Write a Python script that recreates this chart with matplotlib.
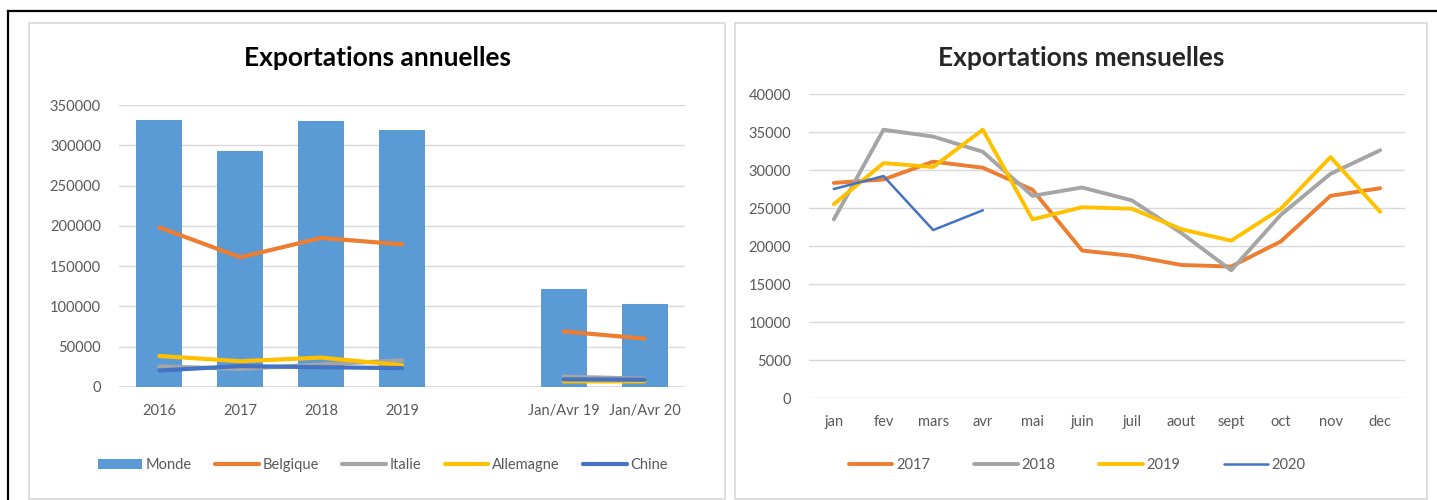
import matplotlib
matplotlib.use("Agg")
import matplotlib.pyplot as plt
from matplotlib.patches import Rectangle
from matplotlib.lines import Line2D
import numpy as np

plt.rcParams['font.family'] = ['Lato', 'DejaVu Sans']

# ---------------- data ----------------
annual_categories = ["2016", "2017", "2018", "2019", "", "Jan/Avr 19", "Jan/Avr 20"]
monde = [332000, 293000, 330000, 319000, np.nan, 122000, 103000]
belgique = [198000, 161000, 185000, 177000, np.nan, 69000, 60000]
italie = [25500, 22500, 28000, 33000, np.nan, 12800, 10300]
allemagne = [38500, 32000, 36500, 27000, np.nan, 7000, 7000]
chine = [20500, 26000, 24500, 23500, np.nan, 9500, 9000]

months = ["jan", "fev", "mars", "avr", "mai", "juin", "juil", "aout", "sept", "oct", "nov", "dec"]
y2017 = [28300, 28750, 31100, 30300, 27400, 19400, 18700, 17500, 17300, 20600, 26600, 27600]
y2018 = [23500, 35300, 34400, 32400, 26600, 27700, 26000, 21700, 16800, 24100, 29500, 32600]
y2019 = [25500, 30900, 30400, 35300, 23500, 25100, 24900, 22200, 20700, 24900, 31700, 24500]
y2020 = [27500, 29200, 22100, 24700]

# ---------------- style ----------------
C_BLUE = "#5B9BD5"
C_ORANGE = "#ED7D31"
C_GRAY = "#A5A5A5"
C_YELLOW = "#FFC000"
C_DBLUE = "#4472C4"
GRID = "#D9D9D9"
TXT = "#595959"

W, H = 1437, 500
fig = plt.figure(figsize=(W / 100, H / 100), dpi=100)
fig.patch.set_facecolor("white")

def fx(px):
    return px / W

def fy(py):
    return 1 - py / H

# outer frame and panel borders
fig.add_artist(Line2D([fx(8), 1.0], [fy(11), fy(11)], color="black", lw=1.6, transform=fig.transFigure))
fig.add_artist(Line2D([fx(8), fx(8)], [fy(11), 0], color="black", lw=1.6, transform=fig.transFigure))
fig.add_artist(Rectangle((fx(29), fy(499)), fx(725 - 29), (499 - 23) / H, fill=False,
                         edgecolor=GRID, lw=1.2, transform=fig.transFigure))
fig.add_artist(Rectangle((fx(735), fy(499)), fx(1427 - 735), (499 - 23) / H, fill=False,
                         edgecolor=GRID, lw=1.2, transform=fig.transFigure))

def style_axes(ax):
    for s in ax.spines.values():
        s.set_visible(False)
    ax.yaxis.grid(True, color=GRID, lw=1.0)
    ax.set_axisbelow(True)
    ax.tick_params(axis="both", length=0, colors=TXT, labelsize=10.5)
    ax.tick_params(axis="y", pad=13)
    ax.tick_params(axis="x", pad=12)

LKW = dict(solid_capstyle="round", solid_joinstyle="round")

# ---------------- left chart ----------------
ax1 = fig.add_axes([fx(119), fy(387), fx(685 - 119), (387 - 105) / H])
x = np.arange(len(annual_categories))
bars = ax1.bar(x, monde, width=0.57, color=C_BLUE, label="Monde", zorder=2)
lw = 3.0
l1, = ax1.plot(x, belgique, color=C_ORANGE, lw=lw, label="Belgique", zorder=3, **LKW)
l2, = ax1.plot(x, italie, color=C_GRAY, lw=lw, label="Italie", zorder=3, **LKW)
l3, = ax1.plot(x, allemagne, color=C_YELLOW, lw=lw, label="Allemagne", zorder=3, **LKW)
l4, = ax1.plot(x, chine, color=C_DBLUE, lw=lw, label="Chine", zorder=3, **LKW)
ax1.set_xlim(-0.5, len(annual_categories) - 0.5)
ax1.set_ylim(0, 350000)
ax1.set_yticks(np.arange(0, 350001, 50000))
ax1.set_yticklabels([str(v) for v in range(0, 350001, 50000)])
ax1.set_xticks(x)
ax1.set_xticklabels(annual_categories)
style_axes(ax1)
ax1.axhline(0, color=GRID, lw=1.2, zorder=1)
fig.text(fx(377), fy(58), "Exportations annuelles", ha="center", va="center",
         fontsize=19, fontweight="bold", color="#000000")
ax1.legend(handles=[bars, l1, l2, l3, l4], labels=["Monde", "Belgique", "Italie", "Allemagne", "Chine"],
           loc="center", bbox_to_anchor=((383 - 119) / (685 - 119), -(465 - 387) / (387 - 105)),
           ncol=5, frameon=False, fontsize=10.5, handlelength=3.0, handletextpad=0.25,
           columnspacing=1.6, labelcolor=TXT)

# ---------------- right chart ----------------
ax2 = fig.add_axes([fx(809), fy(398), fx(1405 - 809), (398 - 94) / H])
xm = np.arange(len(months))
lw2 = 2.8
ax2.plot(xm, y2017, color=C_ORANGE, lw=lw2, label="2017", **LKW)
ax2.plot(xm, y2018, color=C_GRAY, lw=lw2, label="2018", **LKW)
ax2.plot(xm, y2019, color=C_YELLOW, lw=lw2, label="2019", **LKW)
ax2.plot(xm[:len(y2020)], y2020, color=C_DBLUE, lw=1.8, label="2020", **LKW)
ax2.set_xlim(-0.5, len(months) - 0.5)
ax2.set_ylim(0, 40000)
ax2.set_yticks(np.arange(0, 40001, 5000))
ax2.set_yticklabels([str(v) for v in range(0, 40001, 5000)])
ax2.set_xticks(xm)
ax2.set_xticklabels(months)
style_axes(ax2)
fig.text(fx(1081), fy(58), "Exportations mensuelles", ha="center", va="center",
         fontsize=19, fontweight="bold", color="#262626")
ax2.legend(loc="center", bbox_to_anchor=((1077 - 809) / (1405 - 809), -(465 - 398) / (398 - 94)),
           ncol=4, frameon=False, fontsize=10.5, handlelength=3.0, handletextpad=0.25,
           columnspacing=3.0, labelcolor=TXT)

fig.savefig("out.png", dpi=100, facecolor="white")
